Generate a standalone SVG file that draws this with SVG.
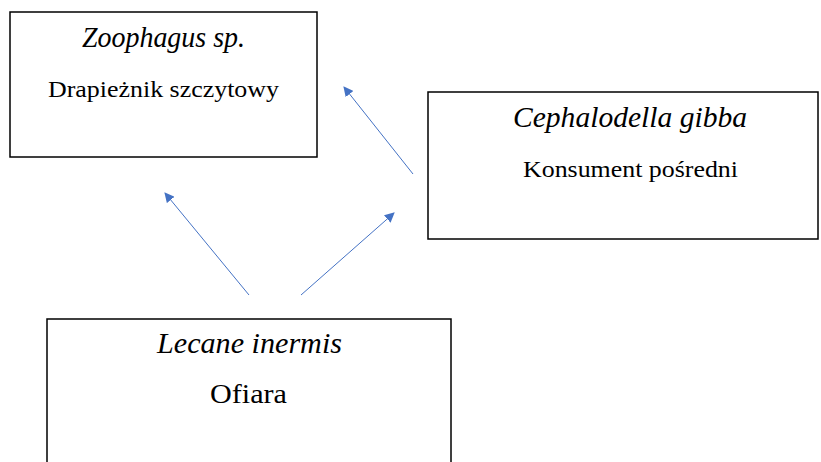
<svg xmlns="http://www.w3.org/2000/svg" width="821" height="462" viewBox="0 0 821 462">
<defs>
<style>
.box{fill:#fff;stroke:#000;stroke-width:1.5}
.c{stroke:#4472C4;stroke-width:1;fill:none;marker-end:url(#ah)}
</style>
<marker id="ah" viewBox="0 0 10 10" refX="9" refY="5" markerWidth="10" markerHeight="10" markerUnits="userSpaceOnUse" orient="auto">
<path d="M0,0 L10,5 L0,10 z" fill="#4472C4"/>
</marker>
</defs>
<rect width="821" height="462" fill="#fff"/>
<g id="connectors">
<line class="c" x1="249" y1="295" x2="165" y2="193"/>
<line class="c" x1="301" y1="295" x2="394" y2="213"/>
<line class="c" x1="413" y1="174" x2="344" y2="87"/>
</g>
<g font-family="'Liberation Serif', 'Times New Roman', serif" text-anchor="middle" fill="#000">
<g id="zoophagus">
<rect class="box" x="10" y="12" width="307" height="145"/>
<text x="163.5" y="47" font-size="30" font-style="italic" textLength="163" lengthAdjust="spacingAndGlyphs">Zoophagus sp.</text>
<text x="163.5" y="97" font-size="23" textLength="231" lengthAdjust="spacingAndGlyphs">Drapieżnik  szczytowy</text>
</g>
<g id="cephalodella">
<rect class="box" x="428" y="92" width="390" height="147"/>
<text x="630" y="127" font-size="30" font-style="italic" textLength="234" lengthAdjust="spacingAndGlyphs">Cephalodella gibba</text>
<text x="630.5" y="177" font-size="23" textLength="215" lengthAdjust="spacingAndGlyphs">Konsument  pośredni</text>
</g>
<g id="lecane">
<rect class="box" x="47" y="319" width="404" height="160"/>
<text x="249.5" y="353" font-size="30" font-style="italic" textLength="185" lengthAdjust="spacingAndGlyphs">Lecane inermis</text>
<text x="248.5" y="403" font-size="28" textLength="77" lengthAdjust="spacingAndGlyphs">Ofiara</text>
</g>
</g>
</svg>
